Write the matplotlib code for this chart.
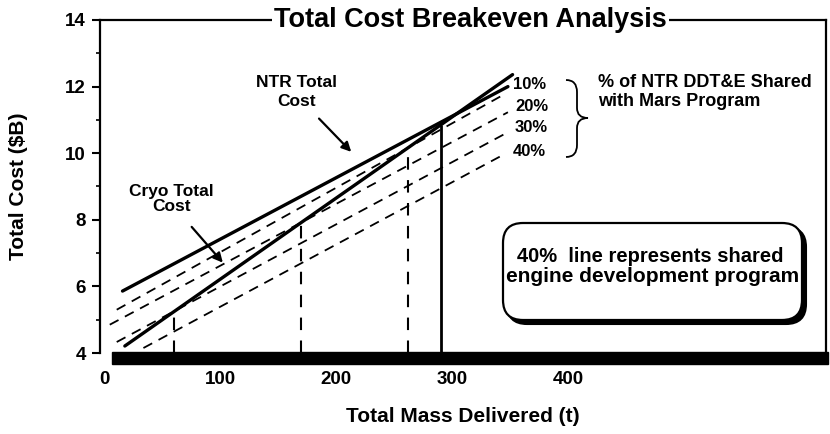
import numpy as np
import matplotlib
matplotlib.use("Agg")
import matplotlib.pyplot as plt
from matplotlib.patches import FancyBboxPatch, Rectangle, PathPatch
from matplotlib.path import Path
from matplotlib.transforms import IdentityTransform

plt.rcParams['font.family'] = ['Liberation Sans', 'DejaVu Sans']
plt.rcParams['font.weight'] = 'bold'

# ---- data (straight lines, end points) ----
cryo_mass = [18, 352]
cryo_cost = [4.21, 12.36]

ntr_mass = [16, 348]
ntr_cost = [5.86, 12.00]

share_labels = ['10%', '20%', '30%', '40%']
share_mass_start = [11, 5, 11, 34]
share_mass_end = [346, 348, 348, 346]
share_cost_start = [5.30, 4.85, 4.33, 4.15]
share_cost_end = [11.79, 11.23, 10.63, 9.99]

# breakeven points (cryo line crosses NTR lines)
breakeven_mass = [60, 170, 262, 290]
breakeven_cost = [5.24, 7.92, 10.17, 10.85]

x_ticks = [0, 100, 200, 300, 400]
y_ticks = [4, 6, 8, 10, 12, 14]

W, H = 830, 434
fig = plt.figure(figsize=(W / 100, H / 100), dpi=100)
ax = fig.add_axes([100 / W, 1 - 353 / H, (826 - 100) / W, (353 - 20) / H])

ax.set_xlim(-3.4, 622)
ax.set_ylim(4, 14)

# lines
ax.plot(cryo_mass, cryo_cost, color='black', lw=2.4, solid_capstyle='round')
ax.plot(ntr_mass, ntr_cost, color='black', lw=2.4, solid_capstyle='round')
for xs, xe, ys, ye in zip(share_mass_start, share_mass_end,
                          share_cost_start, share_cost_end):
    ax.plot([xs, xe], [ys, ye], color='black', lw=1.3,
            linestyle=(0, (5.5, 4)))

# breakeven verticals
for i, (m, c) in enumerate(zip(breakeven_mass, breakeven_cost)):
    if i == len(breakeven_mass) - 1:
        ax.vlines(m, 4, c, color='black', lw=2.0)
    else:
        ax.vlines(m, 4, c, color='black', lw=1.5, linestyle=(0, (6, 5)))

# percent labels at right end of share lines
label_y = [12.05, 11.39, 10.76, 10.05]
for lab, xe, ly in zip(share_labels, share_mass_end, label_y):
    ax.text(xe + 6, ly, lab, fontsize=12, fontweight='bold',
            va='center', ha='left')

# spines / ticks
ax.spines['bottom'].set_visible(False)
for s in ['top', 'left', 'right']:
    ax.spines[s].set_linewidth(1.6)
ax.set_xticks(x_ticks)
ax.set_xticklabels([str(t) for t in x_ticks])
ax.set_yticks(y_ticks)
ax.set_yticks([5, 7, 9, 11, 13], minor=True)
ax.tick_params(axis='x', length=0, pad=13, labelsize=13.5)
ax.tick_params(axis='y', which='major', length=6, width=1.5, pad=4,
               labelsize=13.5)
ax.tick_params(axis='y', which='minor', length=3, width=1.2)
for lab in ax.get_xticklabels() + ax.get_yticklabels():
    lab.set_fontweight('bold')

ax.set_xlabel('Total Mass Delivered (t)', fontsize=15, fontweight='bold',
              labelpad=14)
ax.yaxis.set_label_coords(-72 / (826 - 100), 0.5)
ax.set_ylabel('Total Cost ($B)', fontsize=15, fontweight='bold')

# thick bottom bar
fig.patches.append(Rectangle((112 / W, 1 - 364 / H), (828 - 112) / W, 12 / H,
                             transform=fig.transFigure, color='black',
                             zorder=5))

# title breaking the top frame
ax.text(315.5, 14.0, 'Total Cost Breakeven Analysis', fontsize=19.5,
        fontweight='bold', ha='center', va='center', clip_on=False,
        bbox=dict(facecolor='white', edgecolor='none', pad=1.5), zorder=6)

# annotations
ax.text(166, 11.84, 'NTR Total\nCost', fontsize=12.5, fontweight='bold',
        ha='center', va='center', linespacing=1.3)
ax.annotate('', xy=(214.7, 9.98), xytext=(183.6, 11.1),
            arrowprops=dict(arrowstyle='-|>', color='black', lw=1.6,
                            mutation_scale=14))
ax.text(58, 8.62, 'Cryo Total\nCost', fontsize=12.5, fontweight='bold',
        ha='center', va='center', linespacing=1.0)
ax.annotate('', xy=(104, 6.65), xytext=(74, 7.85),
            arrowprops=dict(arrowstyle='-|>', color='black', lw=1.6,
                            mutation_scale=14))

ax.text(426, 11.85, '% of NTR DDT&E Shared\nwith Mars Program', fontsize=13,
        fontweight='bold', ha='left', va='center', linespacing=1.15)

# curly bracket (pixel coordinates, y measured from top)
def px(x, y):
    return (x, H - y)

verts = [px(566, 80), px(577, 80), px(577, 92),
         px(577, 108), px(577, 118), px(588, 118),
         px(577, 118), px(577, 128),
         px(577, 145), px(577, 157), px(566, 157)]
codes = [Path.MOVETO, Path.CURVE3, Path.CURVE3,
         Path.LINETO, Path.CURVE3, Path.CURVE3,
         Path.CURVE3, Path.CURVE3,
         Path.LINETO, Path.CURVE3, Path.CURVE3]
fig.patches.append(PathPatch(Path(verts, codes), transform=IdentityTransform(),
                             facecolor='none', edgecolor='black', lw=1.3))

# rounded note box with shadow
bx0, by0, bx1, by1 = 503, 223, 802, 320
shadow = FancyBboxPatch((bx0 + 4, H - by1 - 4), bx1 - bx0, by1 - by0,
                        boxstyle='round,pad=0,rounding_size=20',
                        transform=IdentityTransform(), facecolor='black',
                        edgecolor='black', lw=1.5, zorder=3)
box = FancyBboxPatch((bx0, H - by1), bx1 - bx0, by1 - by0,
                     boxstyle='round,pad=0,rounding_size=20',
                     transform=IdentityTransform(), facecolor='white',
                     edgecolor='black', lw=1.6, zorder=4)
fig.patches.extend([shadow, box])
fig.text(650 / W, 1 - 257 / H, '40%  line represents shared', fontsize=14.5,
         fontweight='bold', ha='center', va='center', zorder=6)
fig.text(653 / W, 1 - 277 / H, 'engine development program', fontsize=15,
         fontweight='bold', ha='center', va='center', zorder=6)

fig.savefig('out.png', dpi=100)
